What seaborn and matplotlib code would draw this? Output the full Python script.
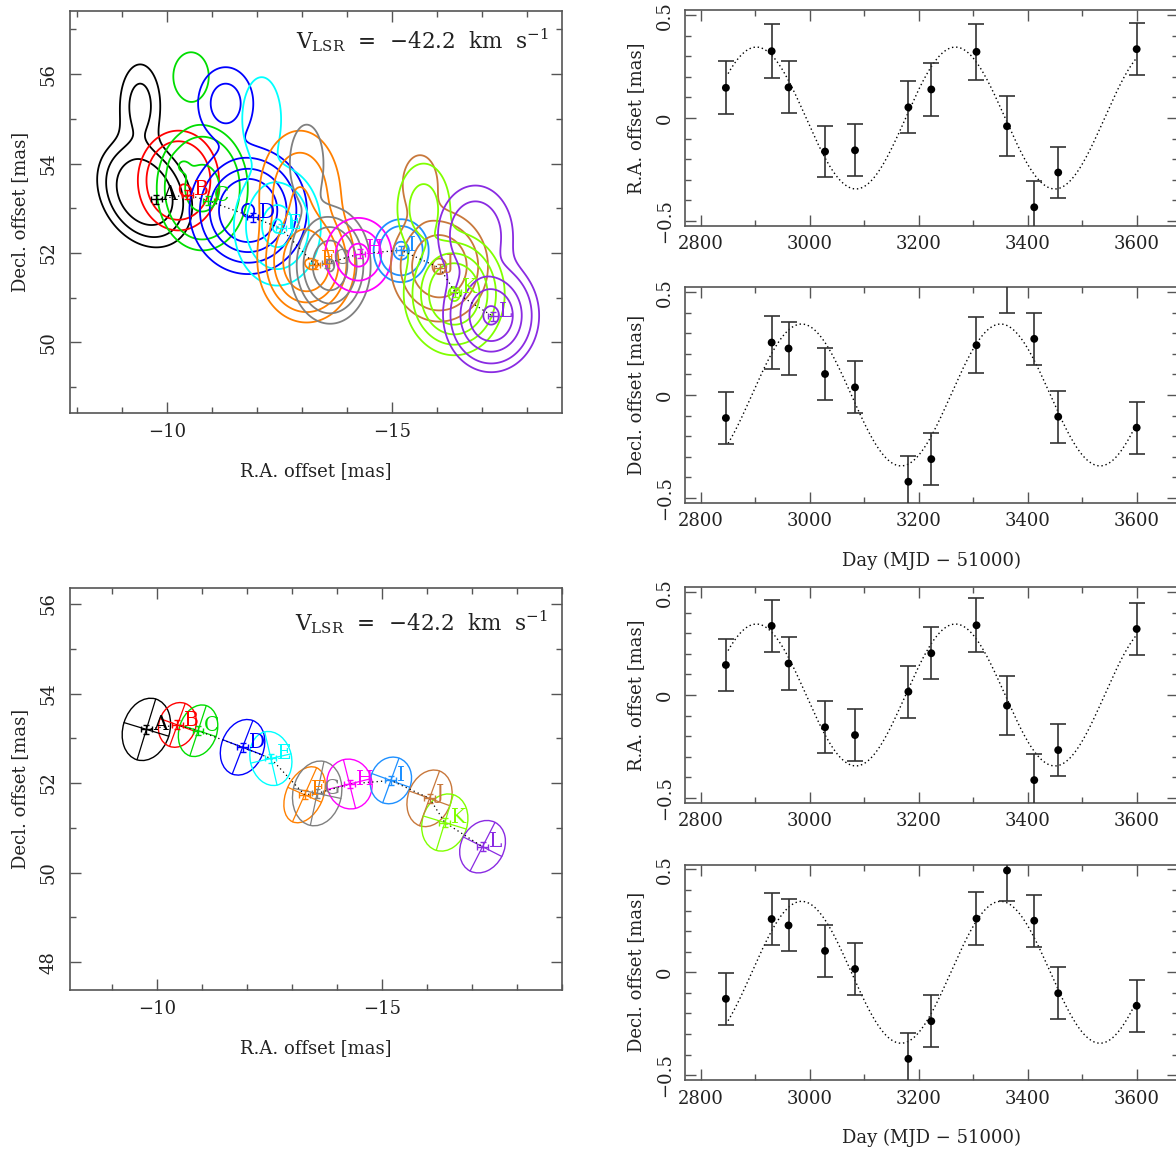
import numpy as np
import matplotlib
matplotlib.use("Agg")
import matplotlib.pyplot as plt
import seaborn as sns
from matplotlib.patches import Ellipse
from matplotlib.ticker import MultipleLocator, FixedLocator

# ------------------------------------------------------------------ data
spot_names = ["A", "B", "C", "D", "E", "F", "G", "H", "I", "J", "K", "L"]
spot_colors = ["#000000", "#ff0000", "#00dd00", "#0000ff", "#00ffff", "#ff8000",
               "#808080", "#ff00ff", "#1e90ff", "#c8783c", "#80ff00", "#8a2be2"]
spot_ra = [-9.76, -10.45, -10.91, -11.90, -12.53, -13.28, -13.56, -14.28, -15.20, -16.06, -16.40, -17.24]
spot_dec = [53.20, 53.30, 53.17, 52.80, 52.55, 51.74, 51.77, 51.98, 52.06, 51.66, 51.12, 50.58]
spot_ra_err = [0.12, 0.12, 0.12, 0.12, 0.12, 0.12, 0.12, 0.12, 0.12, 0.12, 0.12, 0.12]
spot_dec_err = [0.10, 0.10, 0.10, 0.10, 0.10, 0.10, 0.10, 0.10, 0.10, 0.10, 0.10, 0.10]

# spot sizes (ellipses, mas) and position angle of major axis (deg, on the sky image)
ell_major = [0.71, 0.51, 0.59, 0.64, 0.61, 0.66, 0.73, 0.56, 0.53, 0.65, 0.65, 0.61]
ell_minor = [0.52, 0.41, 0.42, 0.47, 0.46, 0.41, 0.54, 0.50, 0.45, 0.48, 0.50, 0.48]
ell_pa = [73, 70, 72, 69, 103, 66, 78, 104, 70, 70, 73, 63]

# emission components of each spot for the contour map
comp_spot = [0, 0, 1, 1, 2, 2, 2, 3, 3, 4, 4, 5, 5, 5, 6, 6, 7, 8, 9, 9, 10, 10, 11, 11]
comp_ra = [-9.50, -9.40, -10.25, -10.46, -10.78, -10.53, -10.33, -11.80, -11.30, -12.45, -12.10,
           -13.10, -12.95, -13.27, -13.62, -13.10, -14.25, -15.20, -16.05, -15.62,
           -16.38, -15.70, -17.20, -16.85]
comp_dec = [53.34, 55.30, 53.62, 53.35, 53.45, 55.95, 53.96, 52.95, 55.35, 52.60, 55.00,
            51.75, 53.30, 51.74, 51.72, 54.00, 51.95, 52.05, 51.70, 53.55,
            51.08, 53.00, 50.60, 52.40]
comp_su = [0.60, 0.30, 0.42, 0.12, 0.45, 0.32, 0.12, 0.55, 0.38, 0.45, 0.30,
           0.45, 0.50, 0.08, 0.38, 0.30, 0.40, 0.33, 0.48, 0.30, 0.45, 0.35, 0.42, 0.45]
comp_sv = [0.45, 0.62, 0.52, 0.12, 0.62, 0.44, 0.12, 0.60, 0.50, 0.62, 0.65,
           0.55, 0.80, 0.08, 0.55, 0.70, 0.45, 0.38, 0.55, 0.50, 0.55, 0.60, 0.50, 0.60]
comp_pa = [-60, 0, 0, 0, 0, 0, 0, 0, 0, 0, 0, 0, 0, 0, 0, 0, 0, 0, 0, 0, 0, 0, 0, 0]
comp_amp = [1.0, 0.30, 1.0, 0.45, 1.0, 0.17, 0.40, 1.0, 0.22, 1.0, 0.28,
            1.0, 0.30, 0.25, 1.0, 0.13, 1.0, 1.0, 1.0, 0.18, 1.0, 0.18, 1.0, 0.22]
spot_levels = [[0.10, 0.22, 0.45],
               [0.10, 0.24, 1.05],
               [0.08, 0.18, 0.70],
               [0.06, 0.15, 0.30, 0.50, 0.97],
               [0.10, 0.30, 0.75, 0.97],
               [0.06, 0.15, 0.30, 0.55, 1.05],
               [0.06, 0.15, 0.30, 0.60, 0.97],
               [0.18, 0.45, 0.85],
               [0.18, 0.35, 0.87],
               [0.08, 0.20, 0.45, 0.95],
               [0.045, 0.12, 0.26, 0.46, 0.96],
               [0.04, 0.10, 0.27, 0.52, 0.92]]

vlsr_text = r"V$_{\rm LSR}$  =  $-$42.2  km  s$^{-1}$"

# time series (Day = MJD - 51000)
days = [2846, 2930, 2961, 3028, 3083, 3181, 3223, 3306, 3362, 3412, 3456, 3600]
ra_1 = [0.147, 0.325, 0.149, -0.163, -0.157, 0.052, 0.139, 0.322, -0.040, -0.434, -0.265, 0.335]
ra_1_err = [0.128, 0.131, 0.127, 0.126, 0.126, 0.126, 0.128, 0.135, 0.147, 0.130, 0.126, 0.126]
dec_1 = [-0.112, 0.255, 0.226, 0.102, 0.037, -0.422, -0.312, 0.242, 0.545, 0.273, -0.106, -0.159]
dec_1_err = [0.127, 0.131, 0.128, 0.127, 0.127, 0.127, 0.127, 0.135, 0.147, 0.127, 0.126, 0.126]
ra_2 = [0.146, 0.336, 0.153, -0.157, -0.195, 0.016, 0.203, 0.339, -0.052, -0.414, -0.268, 0.321]
ra_2_err = [0.127, 0.126, 0.127, 0.126, 0.127, 0.126, 0.126, 0.131, 0.145, 0.128, 0.126, 0.127]
dec_2 = [-0.129, 0.259, 0.228, 0.104, 0.016, -0.421, -0.238, 0.261, 0.495, 0.251, -0.102, -0.163]
dec_2_err = [0.125, 0.126, 0.126, 0.126, 0.126, 0.126, 0.126, 0.130, 0.146, 0.127, 0.126, 0.126]

# parallax model
model_amp = 0.345
model_period = 365.25
ra_peak_day = 2902
dec_peak_day = 2985
model_start, model_end = 2850, 3600

# ------------------------------------------------------------------ style
sns.set_theme(style="ticks")
plt.rcParams["font.family"] = ["DejaVu Serif", "DejaVu Sans"]
plt.rcParams["mathtext.fontset"] = "dejavuserif"
TXT = "#222222"
SPINE = "#555555"
FS = 13

fig = plt.figure(figsize=(11.76, 11.53), dpi=100)


def style_axes(ax):
    for s in ax.spines.values():
        s.set_color(SPINE)
        s.set_linewidth(1.2)
    ax.tick_params(which="both", direction="in", top=True, right=True,
                   color=SPINE, width=1.0, labelsize=FS, labelcolor=TXT)
    ax.tick_params(which="major", length=8)
    ax.tick_params(which="minor", length=4.5)
    ax.tick_params(axis="y", labelrotation=90)
    for lab in ax.get_yticklabels():
        lab.set_va("center")


# ------------------------------------------------------------------ map panels
xs = np.linspace(-19.3, -7.5, 520)
ys = np.linspace(47.2, 57.6, 460)
XX, YY = np.meshgrid(xs, ys)


def spot_field(k):
    Z = np.zeros_like(XX)
    for c in range(len(comp_spot)):
        if comp_spot[c] != k:
            continue
        u = -(XX - comp_ra[c])
        v = YY - comp_dec[c]
        p = np.deg2rad(comp_pa[c])
        up = u * np.cos(p) + v * np.sin(p)
        vp = -u * np.sin(p) + v * np.cos(p)
        Z += comp_amp[c] * np.exp(-0.5 * ((up / comp_su[c]) ** 2 + (vp / comp_sv[c]) ** 2))
    return Z


def map_common(ax, xlim, ylim, txt_y):
    ax.set_xlim(*xlim)
    ax.set_ylim(*ylim)
    ax.xaxis.set_major_locator(MultipleLocator(5))
    ax.xaxis.set_minor_locator(MultipleLocator(1))
    ax.yaxis.set_major_locator(MultipleLocator(2))
    ax.yaxis.set_minor_locator(MultipleLocator(1))
    style_axes(ax)
    ax.tick_params(axis="x", pad=7)
    ax.tick_params(axis="y", pad=9)
    ax.set_xlabel("R.A. offset [mas]", fontsize=FS, color=TXT, va="center")
    ax.set_ylabel("Decl. offset [mas]", fontsize=FS, color=TXT, va="center")
    ax.xaxis.set_label_coords(0.5, -0.144)
    ax.yaxis.set_label_coords(-0.102, 0.5)
    ax.text(0.972, txt_y, vlsr_text, transform=ax.transAxes, ha="right", va="center",
            fontsize=15.5, color=TXT)
    sns.lineplot(x=spot_ra, y=spot_dec, ax=ax, sort=False, estimator=None,
                 color="black", lw=0.9, linestyle=(0, (1, 2.5)))
    for i, n in enumerate(spot_names):
        ax.errorbar(spot_ra[i], spot_dec[i], xerr=spot_ra_err[i], yerr=spot_dec_err[i],
                    fmt="none", ecolor=spot_colors[i], elinewidth=1.0, capsize=2, zorder=5)
        ax.annotate(n, (spot_ra[i], spot_dec[i]), xytext=(4.5, 3.5), textcoords="offset points",
                    ha="left", va="center", fontsize=14.5, color=spot_colors[i], zorder=6)


ax_map = fig.add_axes([0.0595, 0.6415, 0.4186, 0.3492])
for k in range(len(spot_names)):
    ax_map.contour(XX, YY, spot_field(k), levels=spot_levels[k], colors=[spot_colors[k]],
                   linewidths=1.3)
map_common(ax_map, (-7.84, -18.78), (48.41, 57.42), 0.927)

ax_ell = fig.add_axes([0.0595, 0.1414, 0.4181, 0.3487])
for i in range(len(spot_names)):
    ang = 180 - ell_pa[i]
    ax_ell.add_patch(Ellipse((spot_ra[i], spot_dec[i]), 2 * ell_major[i], 2 * ell_minor[i],
                             angle=ang, fill=False, ec=spot_colors[i], lw=1.0))
    t = np.deg2rad(ell_pa[i])
    dx, dy = -np.cos(t), np.sin(t)
    ax_ell.plot([spot_ra[i] - ell_major[i] * dx, spot_ra[i] + ell_major[i] * dx],
                [spot_dec[i] - ell_major[i] * dy, spot_dec[i] + ell_major[i] * dy],
                color=spot_colors[i], lw=0.9)
    ax_ell.plot([spot_ra[i] - ell_minor[i] * dy, spot_ra[i] + ell_minor[i] * dy],
                [spot_dec[i] + ell_minor[i] * dx, spot_dec[i] - ell_minor[i] * dx],
                color=spot_colors[i], lw=0.9)
map_common(ax_ell, (-8.06, -19.0), (47.38, 56.36), 0.915)

# ------------------------------------------------------------------ time series panels
panel_rect = [(0.8042, ra_1, ra_1_err, ra_peak_day, "R.A. offset [mas]", False),
              (0.5640, dec_1, dec_1_err, dec_peak_day, "Decl. offset [mas]", True),
              (0.3038, ra_2, ra_2_err, ra_peak_day, "R.A. offset [mas]", False),
              (0.0633, dec_2, dec_2_err, dec_peak_day, "Decl. offset [mas]", True)]

for bottom, vals, errs, peak, ylab, has_xlabel in panel_rect:
    ax = fig.add_axes([0.5825, bottom, 0.4188, 0.1867])
    t_model = np.linspace(model_start, model_end, 700)
    y_model = model_amp * np.cos(2 * np.pi * (t_model - peak) / model_period)
    sns.lineplot(x=t_model, y=y_model, ax=ax, sort=False, estimator=None,
                 color="black", lw=1.0, linestyle=(0, (1, 2)))
    ax.errorbar(days, vals, yerr=errs, fmt="none", ecolor="#333333", elinewidth=1.2,
                capsize=6, capthick=1.2, zorder=3)
    sns.scatterplot(x=days, y=vals, ax=ax, color="black", s=32, edgecolor="none", zorder=4)
    ax.set_xlim(2771, 3675)
    ax.set_ylim(-0.524, 0.523)
    ax.xaxis.set_major_locator(MultipleLocator(200))
    ax.xaxis.set_minor_locator(MultipleLocator(100))
    ax.yaxis.set_major_locator(FixedLocator([-0.5, 0, 0.5]))
    ax.yaxis.set_minor_locator(MultipleLocator(0.1))
    ax.set_yticklabels(["\u22120.5", "0", "0.5"])
    style_axes(ax)
    ax.tick_params(axis="x", pad=7)
    ax.tick_params(axis="y", pad=8)
    ax.set_ylabel(ylab, fontsize=FS, color=TXT, va="center")
    ax.yaxis.set_label_coords(-0.0995, 0.5)
    if has_xlabel:
        ax.set_xlabel("Day (MJD \u2212 51000)", fontsize=FS, color=TXT, va="center")
        ax.xaxis.set_label_coords(0.5, -0.27)

fig.savefig("out.png", dpi=100)
